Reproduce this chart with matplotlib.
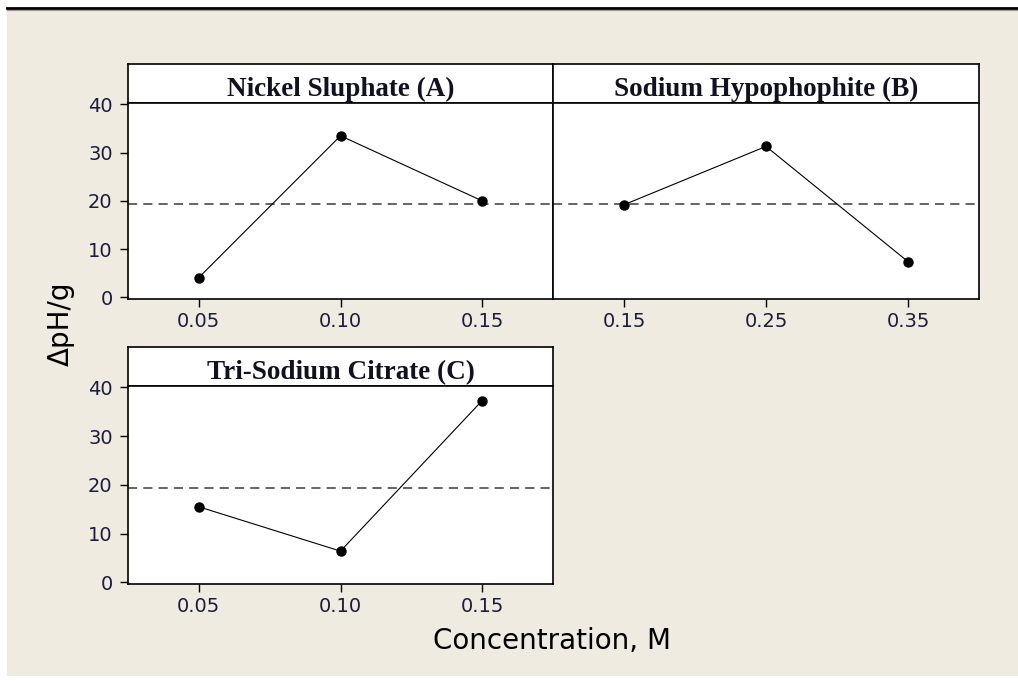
import numpy as np
import matplotlib
matplotlib.use("Agg")
import matplotlib.pyplot as plt
from matplotlib.patches import Rectangle
from matplotlib.lines import Line2D

# main effects data
levels_a = ["0.05", "0.10", "0.15"]
dph_a = [4.1, 33.5, 20.0]
levels_b = ["0.15", "0.25", "0.35"]
dph_b = [19.2, 31.3, 7.4]
levels_c = ["0.05", "0.10", "0.15"]
dph_c = [15.5, 6.4, 37.3]
titles = ["Nickel Sluphate (A)", "Sodium Hypophophite (B)", "Tri-Sodium Citrate (C)"]
grand_mean = 19.4
yticks = [0, 10, 20, 30, 40]

W, H = 1018, 683
fig = plt.figure(figsize=(W / 100, H / 100), dpi=100)
fig.patch.set_facecolor("white")

bg = "#EFEBE1"
tick_col = "#1c1c3c"

# beige window background and top rule
fig.add_artist(Rectangle((7 / W, 1 - 676 / H), 1 - 7 / W, (676 - 9) / H,
                         transform=fig.transFigure, facecolor=bg, edgecolor="none", zorder=0))
fig.add_artist(Line2D([7 / W, 1], [1 - 8 / H, 1 - 8 / H], transform=fig.transFigure,
                      color="black", lw=2.0, zorder=1))
fig.add_artist(Line2D([7 / W, 1], [1 - 10 / H, 1 - 10 / H], transform=fig.transFigure,
                      color="#9a968c", lw=0.8, zorder=1))


def box(x0, x1, y0, y1):
    # pixel box (top-left origin) -> figure fraction rect
    return [x0 / W, 1 - y1 / H, (x1 - x0) / W, (y1 - y0) / H]


def panel(x0, x1, ytop, yhead, ybot, levels, vals, title, show_y):
    head = fig.add_axes(box(x0, x1, ytop, yhead))
    head.set_facecolor("white")
    head.set_xticks([])
    head.set_yticks([])
    for s in head.spines.values():
        s.set_linewidth(1.2)
    t = head.text(0.5, 0.17, title, transform=head.transAxes, ha="center", va="baseline",
                  fontsize=19.5, fontweight="bold", family="Liberation Serif", color="#111122")
    t.set_clip_on(True)

    ax = fig.add_axes(box(x0, x1, yhead, ybot))
    ax.set_facecolor("white")
    pos = np.arange(1, len(levels) + 1)
    ax.axhline(grand_mean, color="#3a3a3a", lw=1.1, ls=(0, (6, 4)), zorder=1)
    ax.plot(pos, vals, color="black", lw=0.8, marker="o", ms=6.5, zorder=3)
    ax.set_xlim(0.5, 3.5)
    ax.set_ylim(-0.35, 40.3)
    ax.set_xticks(pos)
    ax.set_xticklabels(levels)
    ax.tick_params(axis="x", direction="out", length=6, width=1, pad=3.5,
                   labelsize=14, labelcolor=tick_col)
    if show_y:
        ax.set_yticks(yticks)
        ax.tick_params(axis="y", direction="out", length=6, width=1, pad=5,
                       labelsize=14, labelcolor=tick_col)
    else:
        ax.set_yticks([])
    for s in ax.spines.values():
        s.set_linewidth(1.2)
    return ax


panel(128, 553, 64, 103, 299, levels_a, dph_a, titles[0], True)
panel(553, 979, 64, 103, 299, levels_b, dph_b, titles[1], False)
panel(128, 553, 347, 386, 584, levels_c, dph_c, titles[2], True)

fig.text(552 / W, 1 - 641 / H, "Concentration, M", ha="center", va="center",
         fontsize=20, color="black")
fig.text(61 / W, 1 - 324 / H, "\u0394pH/g", ha="center", va="center", rotation=90,
         fontsize=20, color="black")

fig.savefig("out.png", dpi=100, facecolor=fig.get_facecolor())
